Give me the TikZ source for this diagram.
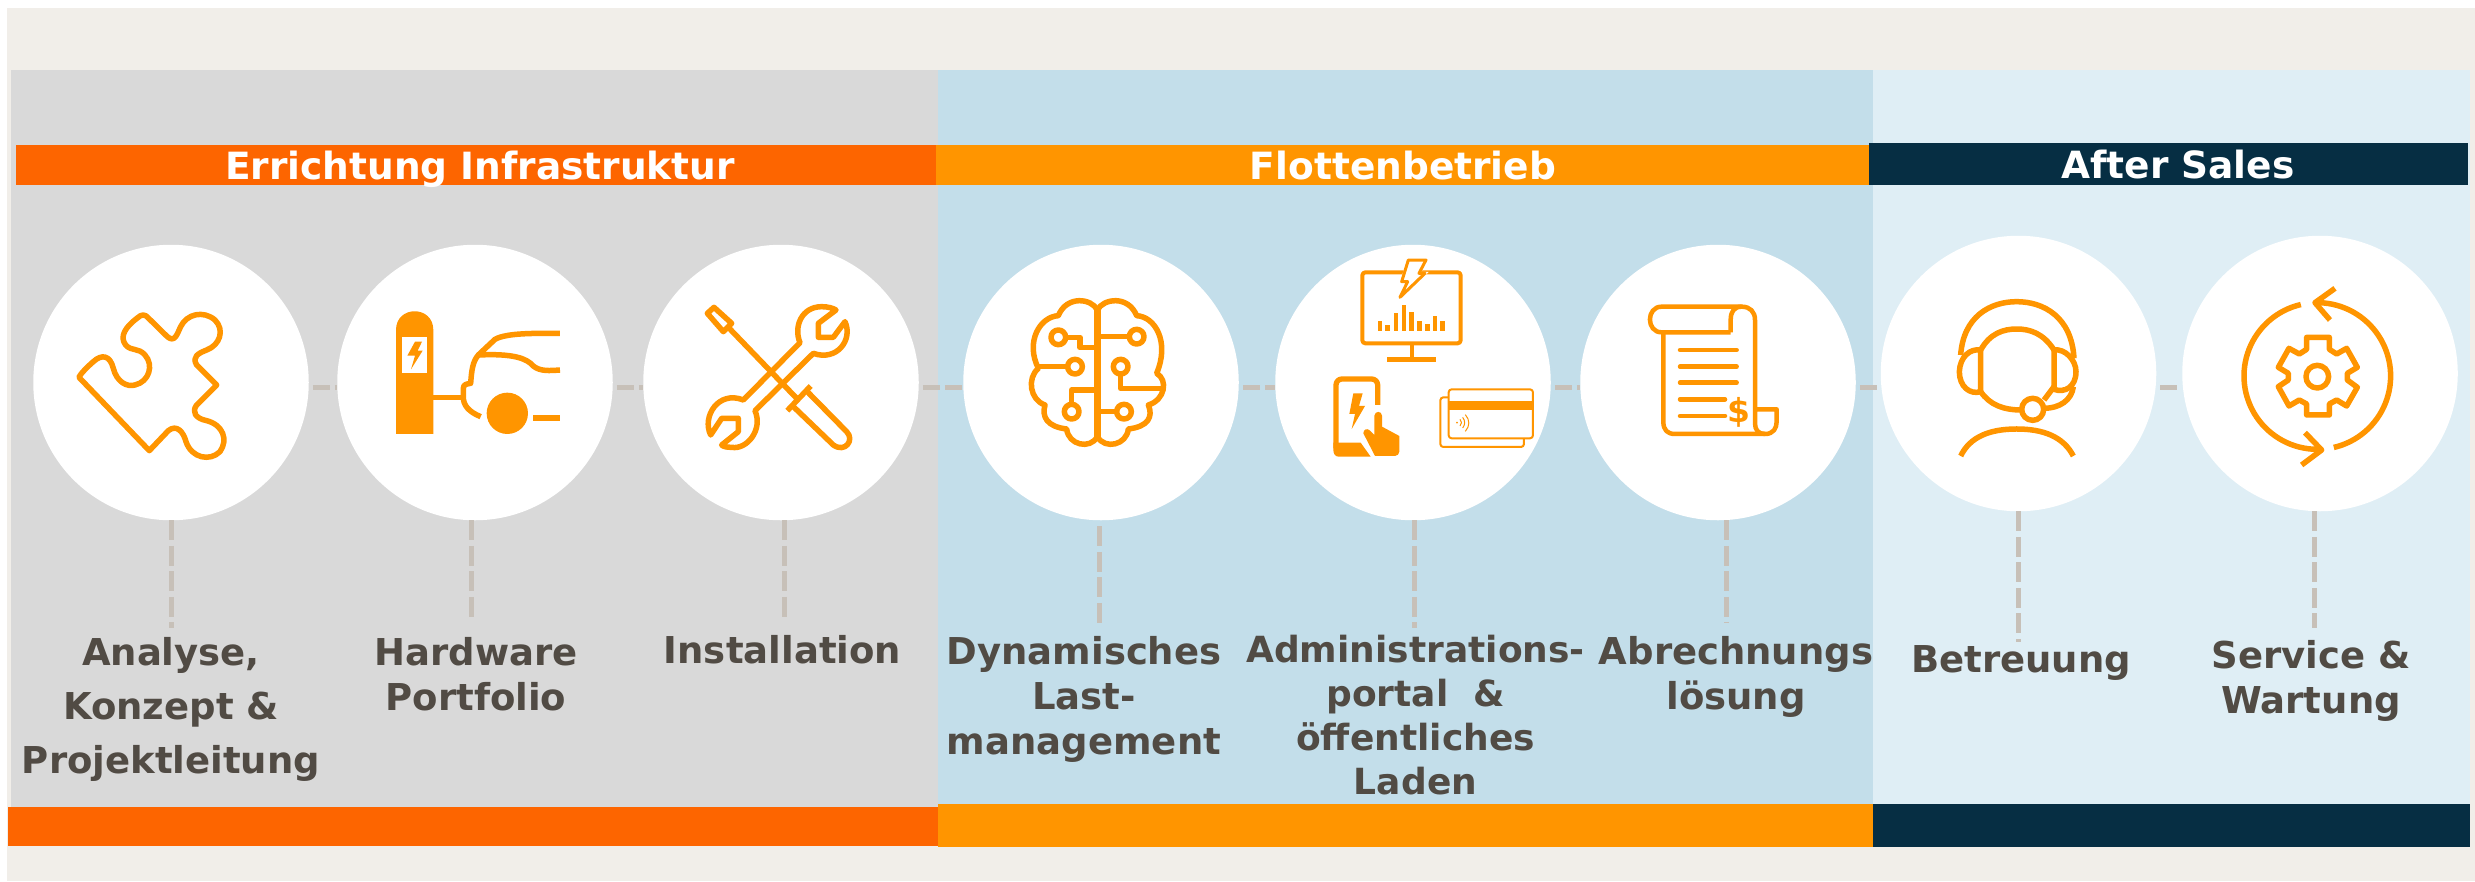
\documentclass[tikz,border=0pt]{standalone}
\usepackage{fontspec}
\setmainfont{DejaVu Sans}
\definecolor{beige}{HTML}{F1EEE9}
\definecolor{panelgray}{HTML}{D9D9D9}
\definecolor{panelblue}{HTML}{C3DEEA}
\definecolor{panellight}{HTML}{DFEEF5}
\definecolor{orangered}{HTML}{FD6500}
\definecolor{amber}{HTML}{FF9500}
\definecolor{navy}{HTML}{062E43}
\definecolor{textgray}{HTML}{514B44}
\definecolor{dashgray}{HTML}{C7C0B8}
\tikzset{
  circ/.style={circle,fill=white,minimum size=275.5pt,inner sep=0pt},
  hline/.style={draw=dashgray,line width=5pt,dash pattern=on 17pt off 5pt,dash phase=18pt},
  vline/.style={draw=dashgray,line width=5pt,dash pattern=on 20pt off 5.5pt},
  title/.style={text=white,font=\fontsize{37.5}{45}\selectfont\bfseries,anchor=base,inner sep=0pt},
  lbl/.style={text=textgray,font=\fontsize{37}{45}\selectfont\bfseries,anchor=base,align=center,inner sep=0pt},
  ico/.style={draw=amber,line width=5.5pt,line join=round},
  icf/.style={fill=amber,draw=none}
}
\begin{document}
\begin{tikzpicture}[x=1pt,y=-1pt]
\useasboundingbox (0,0) rectangle (2475,881);
\fill[white] (0,0) rectangle (2475,881);
\fill[beige] (7,8) rectangle (2475,881);
%Panels
\fill[panelgray] (11,70) rectangle (938,807);
\fill[panelblue] (938,70) rectangle (1873,804);
\fill[panellight] (1873,70) rectangle (2470,804);
%Header bars
\fill[orangered] (16,145) rectangle (936,185);
\fill[amber] (936,145) rectangle (1869,185);
\fill[navy] (1869,143) rectangle (2468,185);
\node[title] (t1) at (480,179.5) {Errichtung Infrastruktur};
\node[title] (t2) at (1403,179.5) {Flottenbetrieb};
\node[title] (t3) at (2178,178.5) {After Sales};
%Bottom bars
\fill[orangered] (8,807) rectangle (938,846);
\fill[amber] (938,804) rectangle (1873,847);
\fill[navy] (1873,804) rectangle (2470,847);
%Circles
\node[circ] (c1) at (171,382.5) {};
\node[circ] (c2) at (475,382.5) {};
\node[circ] (c3) at (781,382.5) {};
\node[circ] (c4) at (1101,382.5) {};
\node[circ] (c5) at (1413,382.5) {};
\node[circ] (c6) at (1718,382.5) {};
\node[circ] (c7) at (2018.5,373.5) {};
\node[circ] (c8) at (2320,373.5) {};
%Dashes between the circles
\coordinate (h) at (0,387);
\draw[hline] (c1.east |- h)--(c2.west |- h);
\draw[hline] (c2.east |- h)--(c3.west |- h);
\draw[hline] (c3.east |- h)--(c4.west |- h);
\draw[hline] (c4.east |- h)--(c5.west |- h);
\draw[hline] (c5.east |- h)--(c6.west |- h);
\draw[hline] (c6.east |- h)--(c7.west |- h);
\draw[hline] (c7.east |- h)--(c8.west |- h);
%Dashes down to the labels
\coordinate (e1) at (171,628);
\coordinate (e2) at (471,621);
\coordinate (e3) at (784,621);
\coordinate (e4) at (1099,628);
\coordinate (e5) at (1414,628);
\coordinate (e6) at (1726,623);
\coordinate (e7) at (2018,642);
\coordinate (e8) at (2314,628);
\draw[vline] (c1.south -| e1)--(e1);
\draw[vline] (c2.south -| e2)--(e2);
\draw[vline] (c3.south -| e3)--(e3);
\draw[vline] ([yshift=-6pt]c4.south -| e4)--(e4);
\draw[vline] (c5.south -| e5)--(e5);
\draw[vline] (c6.south -| e6)--(e6);
\draw[vline] (c7.south -| e7)--(e7);
\draw[vline] (c8.south -| e8)--(e8);
%Labels
\node[lbl,font=\fontsize{37}{54}\selectfont\bfseries] (l1) at (171,773) {Analyse,\\Konzept \&\\Projektleitung};
\node[lbl] (l2) at (476,710) {Hardware\\Portfolio};
\node[lbl] (l3) at (782.5,663) {Installation};
\node[lbl] (l4) at (1084,754) {Dynamisches\\Last-\\management};
\node[lbl,font=\fontsize{36}{44}\selectfont\bfseries] (l5) at (1415.5,794) {Administrations-\\portal~~\&\\öffentliches\\Laden};
\node[lbl] (l6) at (1736,709) {Abrechnungs\\lösung};
\node[lbl] (l7) at (2021,672) {Betreuung};
\node[lbl] (l8) at (2311,713) {Service \&\\Wartung};
%Puzzle
\begin{scope}[shift={(60,290)},scale=0.3333]
\draw[ico] (57,262) .. controls (62,250) and (85,228) .. (100,215) .. controls (125,192) and (150,195) .. (160,235) .. controls (170,275) and (200,292) .. (225,285) .. controls (268,275) and (282,225) .. (255,195) .. controls (235,172) and (215,185) .. (197,165) .. controls (178,140) and (195,112) .. (232,84) .. controls (245,72) and (255,72) .. (265,84)--(322,140) .. controls (345,160) and (352,130) .. (362,110) .. controls (380,72) and (430,60) .. (465,90) .. controls (495,120) and (480,165) .. (440,180) .. controls (415,190) and (395,200) .. (410,225)--(470,285)--(410,345) .. controls (395,365) and (405,385) .. (440,392) .. controls (490,405) and (505,450) .. (480,485) .. controls (450,515) and (395,505) .. (378,455) .. controls (370,425) and (350,402) .. (325,422)--(268,482)--cycle;
\end{scope}
%Charger and car
\begin{scope}[shift={(380,290)},scale=0.3333]
\fill[icf] (48,432)--(48,120) .. controls (48,45) and (160,45) .. (160,120)--(160,432)--cycle;
\fill[white] (65,140) rectangle (142,250);
\fill[icf] (105,155)--(126,155)--(113,182)--(128,182)--(93,238)--(105,197)--(82,197)--cycle;
\draw[ico] (160,322)--(250,322);
\draw[ico] (302,380) .. controls (265,365) and (250,345) .. (250,322)--(250,295) .. controls (250,282) and (262,282) .. (272,280) .. controls (275,240) and (278,215) .. (295,195)--(345,148) .. controls (380,128) and (470,130) .. (540,130);
\draw[ico] (295,195) .. controls (400,190) and (440,205) .. (460,228) .. controls (480,245) and (510,242) .. (540,240);
\fill[icf] (382,370) circle (62);
\draw[ico,line width=6pt] (460,384)--(540,384);
\end{scope}
%Screwdriver and wrench
\begin{scope}[shift={(690,290)},scale=0.3333]
\draw[ico] (72,52)--(125,100)--(100,125)--(52,70)--cycle;
\draw[ico] (115,112)--(320,325);
\draw[ico] (292,362)--(362,288);
\draw[ico] (352,305)--(470,425) .. controls (495,450) and (465,490) .. (430,465)--(305,345);
\draw[ico] (330,158) .. controls (310,110) and (335,50) .. (395,50) .. controls (415,50) and (430,55) .. (438,60)--(385,100)--(385,142)--(430,142)--(465,95) .. controls (490,150) and (440,215) .. (370,190)--(195,362) .. controls (220,420) and (170,480) .. (125,472) .. controls (110,472) and (100,470) .. (95,465)--(145,425)--(145,385)--(95,385)--(62,435) .. controls (35,380) and (85,300) .. (160,330)--cycle;
\end{scope}
%Brain
\begin{scope}[shift={(1010,285)},scale=0.3333]
\draw[ico] (262,75) .. controls (245,40) and (170,30) .. (145,92) .. controls (90,95) and (45,170) .. (85,250) .. controls (50,280) and (60,345) .. (105,360) .. controls (95,395) and (110,425) .. (170,432) .. controls (175,480) and (240,495) .. (262,455);
\draw[ico] (262,75) .. controls (280,40) and (355,30) .. (380,92) .. controls (435,95) and (480,170) .. (440,265) .. controls (475,285) and (465,345) .. (415,360) .. controls (430,395) and (415,425) .. (355,432) .. controls (350,480) and (285,495) .. (262,455);
\draw[ico,line width=6.5pt] (262,75)--(262,455);
\draw[ico] (145,157) circle (22);
\draw[ico] (167,157)--(210,157)--(210,188)--(262,188);
\draw[ico] (195,245) circle (22);
\draw[ico] (85,245)--(173,245);
\draw[ico] (185,380) circle (22);
\draw[ico] (185,358)--(185,315)--(262,315);
\draw[ico] (380,155) circle (22);
\draw[ico] (262,155)--(358,155);
\draw[ico] (332,245) circle (22);
\draw[ico] (332,267)--(332,310)--(460,310);
\draw[ico] (342,380) circle (22);
\draw[ico] (262,380)--(320,380);
\end{scope}
%Monitor, phone and cards
\begin{scope}[shift={(1310,250)},scale=0.3333]
\draw[ico,line width=4pt,rounded corners=3pt] (157,67) rectangle (452,280);
\draw[draw=white,fill=white,line width=3pt] (295,30)--(348,30)--(327,70)--(345,70)--(270,142)--(293,95)--(275,95)--cycle;
\draw[ico,line width=3pt,fill=white] (295,30)--(348,30)--(327,70)--(345,70)--(270,142)--(293,95)--(275,95)--cycle;
\draw[ico,line width=4.7pt] (210,242)--(210,213) (233,242)--(233,224) (258,242)--(258,190) (282,242)--(282,165) (305,242)--(305,185) (328,242)--(328,212) (352,242)--(352,222) (375,242)--(375,197) (398,242)--(398,213);
\draw[ico,line width=4pt] (305,280)--(305,325);
\draw[ico,line width=4.7pt] (232,328)--(377,328);
\draw[ico,line width=5.3pt,rounded corners=6pt] (203,465)--(203,387)--(78,387)--(78,595);
\fill[icf] (70,578)--(152,578)--(182,620)--(85,620) .. controls (75,620) and (70,610) .. (70,600)--cycle;
\fill[icf] (130,430)--(158,430)--(147,468)--(165,468)--(125,537)--(135,492)--(118,492)--cycle;
\fill[icf] (193,497) .. controls (195,482) and (215,482) .. (216,497)--(216,530)--(268,558)--(268,605) .. controls (268,612) and (262,618) .. (255,618)--(195,618)--(160,550) .. controls (160,538) and (172,533) .. (180,542)--(193,555)--cycle;
\draw[ico,line width=2pt,rounded corners=3pt] (416,442)--(391,442)--(391,591)--(642,591)--(642,565);
\draw[ico,line width=2pt,rounded corners=3pt] (416,418) rectangle (669,565);
\fill[icf] (416,452) rectangle (669,480);
\fill[icf] (441,518) circle (3);
\draw[ico,line width=1pt] (450,508) .. controls (456,514) and (456,522) .. (450,528);
\draw[ico,line width=1pt] (458,502) .. controls (466,512) and (466,524) .. (458,534);
\draw[ico,line width=1pt] (466,494) .. controls (480,510) and (480,528) .. (466,544);
\end{scope}
%Invoice
\begin{scope}[shift={(1630,290)},scale=0.3333]
\draw[ico,line width=4.5pt] (302,127)--(95,127) .. controls (48,127) and (48,50) .. (95,50)--(335,50) .. controls (360,50) and (375,65) .. (375,90)--(375,400) .. controls (375,420) and (385,432) .. (405,432) .. controls (430,432) and (440,415) .. (440,395)--(440,358)--(375,358);
\draw[ico,line width=4.5pt] (335,50) .. controls (312,50) and (302,65) .. (302,90)--(302,127);
\draw[ico,line width=4.5pt] (100,127)--(100,395) .. controls (100,420) and (112,432) .. (135,432)--(405,432);
\draw[ico,line width=4.5pt,line cap=round] (150,180)--(320,180) (150,230)--(320,230) (150,278)--(320,278) (150,328)--(285,328) (150,378)--(285,378);
\node[text=amber,font=\fontsize{33}{33}\selectfont\bfseries,inner sep=0pt] (dollar) at (328,366) {\$};
\end{scope}
%Headset and gear
\begin{scope}[shift={(1940,280)},scale=0.3333]
\draw[ico] (62,225) .. controls (70,110) and (150,65) .. (230,65) .. controls (310,65) and (395,110) .. (402,235);
\draw[ico] (122,210) .. controls (150,160) and (190,147) .. (230,147) .. controls (270,147) and (310,160) .. (342,210);
\draw[ico] (122,210)--(122,335) .. controls (90,345) and (58,320) .. (58,275) .. controls (60,230) and (90,205) .. (122,210);
\draw[ico] (342,210)--(342,328) .. controls (375,340) and (408,320) .. (408,275) .. controls (408,240) and (375,205) .. (342,210);
\draw[ico] (122,335) .. controls (150,375) and (190,390) .. (245,390);
\draw[ico] (342,320)--(312,360);
\draw[ico] (310,385) .. controls (360,385) and (395,360) .. (400,320);
\draw[ico] (278,388) circle (33);
\draw[ico] (62,528) .. controls (90,470) and (150,447) .. (230,447) .. controls (310,447) and (370,470) .. (400,528);
\draw[ico] plot[domain=103:273,samples=50] ({1132+220*cos(\x)},{288-220*sin(\x)});
\draw[ico] plot[domain=-77:92,samples=50] ({1132+220*cos(\x)},{288-220*sin(\x)});
\draw[ico] (1185,25)--(1125,68)--(1170,120);
\draw[ico] (1095,458)--(1145,510)--(1085,555);
\draw[ico] (1100,172)--(1168,172)--(1168,208)--(1190,222)--(1220,205)--(1252,262)--(1222,280)--(1222,300)--(1252,322)--(1220,378)--(1190,360)--(1168,372)--(1168,405)--(1100,405)--(1100,372)--(1078,360)--(1047,378)--(1015,320)--(1045,300)--(1045,280)--(1015,262)--(1047,205)--(1078,222)--(1100,208)--cycle;
\draw[ico] (1132,290) circle (34);
\end{scope}
\end{tikzpicture}
\end{document}
